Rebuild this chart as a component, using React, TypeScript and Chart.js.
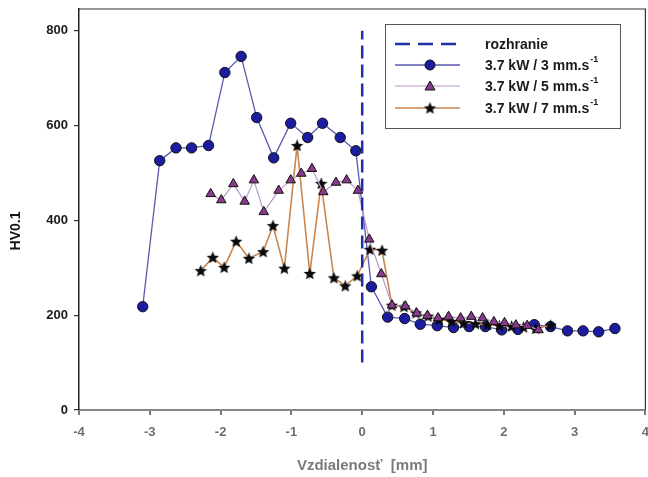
import React, { useEffect, useRef } from "react";
import { Chart, registerables } from "chart.js";

Chart.register(...registerables);

const blueX = [-3.10, -2.86, -2.63, -2.41, -2.17, -1.94, -1.71, -1.49, -1.25, -1.01, -0.77, -0.56, -0.31, -0.09, 0.13, 0.36, 0.60, 0.82, 1.06, 1.29, 1.51, 1.74, 1.97, 2.20, 2.43, 2.66, 2.90, 3.12, 3.34, 3.57];
const blueY = [218, 526, 553, 553, 558, 712, 746, 617, 532, 605, 575, 605, 575, 547, 260, 196, 193, 181, 178, 174, 176, 176, 169, 170, 180, 176, 167, 167, 165, 172];

const purpleX = [-2.14, -1.99, -1.82, -1.66, -1.53, -1.39, -1.18, -1.01, -0.86, -0.71, -0.55, -0.37, -0.22, -0.06, 0.10, 0.27, 0.42, 0.61, 0.77, 0.92, 1.07, 1.22, 1.39, 1.54, 1.70, 1.86, 2.01, 2.17, 2.33, 2.49];
const purpleY = [456, 443, 477, 440, 485, 418, 463, 485, 499, 509, 460, 480, 485, 463, 360, 287, 221, 219, 204, 199, 194, 197, 194, 197, 194, 186, 184, 179, 178, 169];

const starX = [-2.28, -2.11, -1.95, -1.78, -1.60, -1.40, -1.26, -1.10, -0.92, -0.74, -0.58, -0.40, -0.24, -0.07, 0.11, 0.28, 0.42, 0.59, 0.76, 0.93, 1.09, 1.26, 1.43, 1.60, 1.77, 1.94, 2.11, 2.28, 2.45, 2.66];
const starY = [294, 322, 301, 356, 320, 334, 389, 299, 558, 288, 478, 279, 262, 283, 339, 337, 221, 218, 205, 198, 191, 187, 184, 182, 180, 178, 177, 175, 172, 179];

const interfaceX = [0, 0];
const interfaceY = [100, 800];

const xTicks = [-4, -3, -2, -1, 0, 1, 2, 3, 4];
const yTicks = [0, 200, 400, 600, 800];

const legendLabels = ["rozhranie", "3.7 kW / 3 mm.s", "3.7 kW / 5 mm.s", "3.7 kW / 7 mm.s"];
const legendSup = ["", "-1", "-1", "-1"];

const FONT = "'Liberation Sans', Arial, sans-serif";

function zip(xs: number[], ys: number[]) {
  return xs.map((x, i) => ({ x, y: ys[i] }));
}

function makeStar(r: number) {
  const c = document.createElement("canvas");
  const s = Math.ceil(r * 2 + 2);
  c.width = s;
  c.height = s;
  const g = c.getContext("2d")!;
  const cx = s / 2, cy = s / 2 + 0.5;
  g.beginPath();
  for (let i = 0; i < 10; i++) {
    const rr = i % 2 === 0 ? r : r * 0.45;
    const a = -Math.PI / 2 + (i * Math.PI) / 5;
    const px = cx + rr * Math.cos(a);
    const py = cy + rr * Math.sin(a);
    if (i === 0) g.moveTo(px, py);
    else g.lineTo(px, py);
  }
  g.closePath();
  g.fillStyle = "#0a0a0a";
  g.fill();
  return c;
}

const CW = 653;
const CH = 477;

export default function App() {
  const ref = useRef<HTMLCanvasElement | null>(null);

  useEffect(() => {
    if (!ref.current) return;
    const star = makeStar(6.5);

    const framePlugin = {
      id: "frameLegend",
      afterDraw(chart: any) {
        const ctx = chart.ctx as CanvasRenderingContext2D;
        const a = chart.chartArea;
        ctx.save();
        ctx.strokeStyle = "#333";
        ctx.lineWidth = 1.2;
        ctx.beginPath();
        ctx.moveTo(a.left, a.top);
        ctx.lineTo(a.right, a.top);
        ctx.lineTo(a.right, a.bottom);
        ctx.stroke();

        ctx.fillStyle = "#7a7a7a";
        ctx.font = `bold 15px ${FONT}`;
        ctx.textAlign = "center";
        ctx.textBaseline = "middle";
        ctx.fillText("Vzdialenosť  [mm]", (a.left + a.right) / 2, 466);
        ctx.save();
        ctx.translate(16, 231);
        ctx.rotate(-Math.PI / 2);
        ctx.fillStyle = "#151515";
        ctx.font = `bold 14px ${FONT}`;
        ctx.fillText("HV0.1", 0, 0);
        ctx.restore();

        const bx = 385, by = 24, bw = 235, bh = 104;
        ctx.fillStyle = "#fff";
        ctx.fillRect(bx, by, bw, bh);
        ctx.strokeStyle = "#555";
        ctx.lineWidth = 1;
        ctx.strokeRect(bx + 0.5, by + 0.5, bw, bh);
        const rows = [44, 65, 86, 108];
        const ds = chart.data.datasets;
        for (let i = 0; i < 4; i++) {
          const y = rows[i];
          const d = ds[i];
          ctx.save();
          ctx.strokeStyle = d.borderColor;
          ctx.lineWidth = d.borderWidth;
          if (i === 0) ctx.setLineDash([15, 8]);
          ctx.beginPath();
          ctx.moveTo(395, y);
          ctx.lineTo(460, y);
          ctx.stroke();
          ctx.restore();
          if (i > 0) {
            const ps = d.pointStyle;
            if (ps === "circle") {
              ctx.beginPath();
              ctx.arc(430, y, 5, 0, Math.PI * 2);
              ctx.fillStyle = d.pointBackgroundColor;
              ctx.fill();
              ctx.strokeStyle = "#111";
              ctx.lineWidth = 1;
              ctx.stroke();
            } else if (ps === "triangle") {
              ctx.beginPath();
              ctx.moveTo(430, y - 5);
              ctx.lineTo(435, y + 4);
              ctx.lineTo(425, y + 4);
              ctx.closePath();
              ctx.fillStyle = d.pointBackgroundColor;
              ctx.fill();
              ctx.strokeStyle = "#111";
              ctx.lineWidth = 1;
              ctx.stroke();
            } else {
              ctx.drawImage(star, 430 - star.width / 2, y - star.height / 2);
            }
          }
          ctx.fillStyle = "#1a1a1a";
          ctx.font = `bold 14px ${FONT}`;
          ctx.textAlign = "left";
          ctx.textBaseline = "middle";
          ctx.fillText(legendLabels[i], 485, y + 1);
          if (legendSup[i]) {
            const w = ctx.measureText(legendLabels[i]).width;
            ctx.font = `bold 9px ${FONT}`;
            ctx.fillText(legendSup[i], 485 + w + 1, y - 5);
          }
        }
        ctx.restore();
      },
    };

    const chart = new Chart(ref.current, {
      type: "line",
      data: {
        datasets: [
          {
            label: "rozhranie",
            data: zip(interfaceX, interfaceY),
            borderColor: "#1e2fa8",
            borderWidth: 2.5,
            borderDash: [13, 6],
            pointRadius: 0,
            order: 0,
          },
          {
            label: "3.7 kW / 3 mm.s-1",
            data: zip(blueX, blueY),
            borderColor: "#5a5ab0",
            borderWidth: 1.3,
            pointStyle: "circle",
            pointRadius: 5.2,
            pointBackgroundColor: "#1c1ca0",
            pointBorderColor: "#111",
            pointBorderWidth: 1,
            order: 3,
          },
          {
            label: "3.7 kW / 5 mm.s-1",
            data: zip(purpleX, purpleY),
            borderColor: "#b99ac8",
            borderWidth: 1.2,
            pointStyle: "triangle",
            pointRadius: 5.5,
            pointBackgroundColor: "#8a3a8a",
            pointBorderColor: "#111",
            pointBorderWidth: 1,
            order: 1,
          },
          {
            label: "3.7 kW / 7 mm.s-1",
            data: zip(starX, starY),
            borderColor: "#c9864e",
            borderWidth: 1.6,
            pointStyle: star as any,
            pointRadius: 6,
            order: 2,
          },
        ],
      },
      options: {
        responsive: false,
        animation: false,
        layout: { padding: { top: 9, right: 0, left: 0, bottom: 0 } },
        plugins: { legend: { display: false }, tooltip: { enabled: false } },
        elements: { line: { tension: 0, fill: false } },
        scales: {
          x: {
            type: "linear",
            min: -4,
            max: 4,
            afterBuildTicks: (s: any) => {
              s.ticks = xTicks.map((v) => ({ value: v }));
            },
            afterFit: (s: any) => {
              s.height = 67;
              s.paddingLeft = 0;
              s.paddingRight = 0;
            },
            grid: { drawOnChartArea: false, drawTicks: true, tickLength: 5, color: "#777", lineWidth: 2 },
            border: { display: true, color: "#888", width: 2 },
            ticks: {
              color: "#6f6f6f",
              padding: 10,
              font: { family: FONT, size: 13, weight: "bold" },
            },
          },
          y: {
            type: "linear",
            min: 0,
            max: 846,
            afterBuildTicks: (s: any) => {
              s.ticks = yTicks.map((v) => ({ value: v }));
            },
            afterFit: (s: any) => {
              s.width = 79;
              s.paddingTop = 0;
              s.paddingBottom = 0;
            },
            grid: { drawOnChartArea: false, drawTicks: true, tickLength: 5, color: "#333", lineWidth: 1.2 },
            border: { display: true, color: "#222", width: 1.5 },
            ticks: {
              color: "#1a1a1a",
              padding: 6,
              font: { family: FONT, size: 13, weight: "bold" },
            },
          },
        },
      },
      plugins: [framePlugin],
    } as any);

    return () => chart.destroy();
  }, []);

  return (
    <div style={{ position: "fixed", left: 0, top: 0, width: 648, height: 477, overflow: "hidden", background: "#fff" }}>
      <canvas ref={ref} width={CW} height={CH} style={{ width: CW, height: CH, display: "block" }} />
    </div>
  );
}
